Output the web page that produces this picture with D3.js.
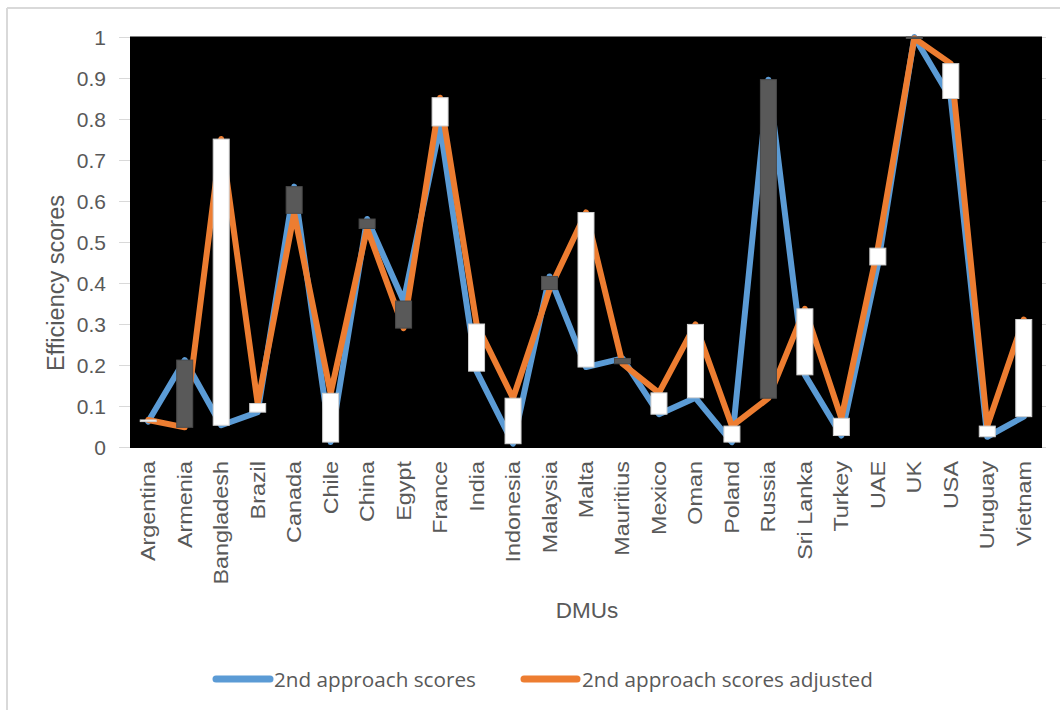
<!DOCTYPE html>
<html>
<head>
<meta charset="utf-8">
<script src="https://cdn.jsdelivr.net/npm/d3@7"></script>
<style>
  html, body { margin: 0; padding: 0; background: #fff; }
  svg { display: block; }
</style>
</head>
<body>
<svg id="chart" width="1060" height="710"></svg>
<script>
// Efficiency scores per DMU, original and adjusted (second approach)
const categories = ["Argentina", "Armenia", "Bangladesh", "Brazil", "Canada", "Chile", "China", "Egypt",
  "France", "India", "Indonesia", "Malaysia", "Malta", "Mauritius", "Mexico", "Oman", "Poland",
  "Russia", "Sri Lanka", "Turkey", "UAE", "UK", "USA", "Uruguay", "Vietnam"];
const scores = [0.062, 0.212, 0.053, 0.085, 0.635, 0.012, 0.556, 0.356, 0.783, 0.185, 0.008, 0.416,
  0.195, 0.216, 0.080, 0.120, 0.012, 0.896, 0.176, 0.028, 0.444, 1.000, 0.850, 0.025, 0.074];
const adjusted = [0.066, 0.048, 0.751, 0.106, 0.570, 0.131, 0.533, 0.290, 0.852, 0.300, 0.119, 0.384,
  0.572, 0.203, 0.132, 0.299, 0.051, 0.119, 0.337, 0.070, 0.485, 0.997, 0.935, 0.051, 0.311];
const yTicks = [0, 0.1, 0.2, 0.3, 0.4, 0.5, 0.6, 0.7, 0.8, 0.9, 1];
const yTickLabels = ["0", "0.1", "0.2", "0.3", "0.4", "0.5", "0.6", "0.7", "0.8", "0.9", "1"];
const seriesNames = ["2nd approach scores", "2nd approach scores adjusted"];
const seriesColors = ["#5B9BD5", "#ED7D31"];

const svg = d3.select("#chart");
const plot = { left: 130, right: 1042, top: 37, bottom: 447 };

const x = d3.scaleBand().domain(categories).range([plot.left, plot.right]);
const y = d3.scaleLinear().domain([0, 1]).range([plot.bottom, plot.top]);

// Chart frame
svg.append("line").attr("x1", 7).attr("x2", 7).attr("y1", 8).attr("y2", 710)
  .attr("stroke", "#d9d9d9").attr("stroke-width", 2);
svg.append("line").attr("x1", 7).attr("x2", 1060).attr("y1", 8).attr("y2", 8)
  .attr("stroke", "#d9d9d9").attr("stroke-width", 2);

// Gridlines (mostly hidden behind the dark plot area)
svg.append("g").selectAll("line").data(yTicks).join("line")
  .attr("x1", 119).attr("x2", 1046)
  .attr("y1", d => Math.round(y(d)) + 0.5).attr("y2", d => Math.round(y(d)) + 0.5)
  .attr("stroke", "#d9d9d9").attr("stroke-width", 1);

// Plot area background
svg.append("rect")
  .attr("x", plot.left).attr("y", plot.top - 0.5)
  .attr("width", plot.right - plot.left).attr("height", plot.bottom - plot.top + 1.5)
  .attr("fill", "#000");

// Y axis tick labels
svg.append("g").selectAll("text").data(yTicks).join("text")
  .attr("x", 106).attr("y", d => y(d))
  .attr("text-anchor", "end").attr("dominant-baseline", "central")
  .attr("font-family", "Liberation Sans, Arial, sans-serif").attr("font-size", 21)
  .attr("fill", "#595959")
  .text((d, i) => yTickLabels[i]);

// X axis category labels (rotated)
svg.append("g").selectAll("text").data(categories).join("text")
  .attr("transform", d => `translate(${x(d) + x.bandwidth() / 2 + 7},${461}) rotate(-90) scale(1.2,1)`)
  .attr("text-anchor", "end")
  .attr("font-family", "Liberation Sans, Arial, sans-serif").attr("font-size", 19.5)
  .attr("fill", "#595959")
  .text(d => d);

// Axis titles
svg.append("text")
  .attr("transform", "translate(56,283) rotate(-90)")
  .attr("text-anchor", "middle").attr("dominant-baseline", "central")
  .attr("font-family", "Liberation Sans, Arial, sans-serif").attr("font-size", 23.5)
  .attr("fill", "#595959")
  .text("Efficiency scores");
svg.append("text")
  .attr("x", 587).attr("y", 618)
  .attr("text-anchor", "middle")
  .attr("font-family", "Liberation Sans, Arial, sans-serif").attr("font-size", 22.5)
  .attr("fill", "#595959")
  .text("DMUs");

// Series lines
const line = d3.line()
  .x((d, i) => x(categories[i]) + x.bandwidth() / 2)
  .y(d => y(d));
[scores, adjusted].forEach((vals, k) => {
  svg.append("path")
    .datum(vals)
    .attr("d", line)
    .attr("fill", "none")
    .attr("stroke", seriesColors[k])
    .attr("stroke-width", 6)
    .attr("stroke-linejoin", "round")
    .attr("stroke-linecap", "round");
});

// Up/down bars between the two series
const barW = 16;
svg.append("g").selectAll("rect").data(categories).join("rect")
  .attr("x", d => x(d) + x.bandwidth() / 2 - barW / 2)
  .attr("width", barW)
  .attr("y", (d, i) => y(Math.max(scores[i], adjusted[i])))
  .attr("height", (d, i) => Math.max(1.5, Math.abs(y(scores[i]) - y(adjusted[i]))))
  .attr("fill", (d, i) => adjusted[i] >= scores[i] ? "#ffffff" : "#595959")
  .attr("stroke", (d, i) => adjusted[i] >= scores[i] ? "#d0d0d0" : "#4a4a4a")
  .attr("stroke-width", 1);

// Legend
const legendItems = [
  { name: seriesNames[0], color: seriesColors[0], x0: 216, x1: 270, tx: 274 },
  { name: seriesNames[1], color: seriesColors[1], x0: 524, x1: 577, tx: 582 }
];
const lg = svg.append("g").selectAll("g").data(legendItems).join("g");
lg.append("line")
  .attr("x1", d => d.x0).attr("x2", d => d.x1)
  .attr("y1", 679).attr("y2", 679)
  .attr("stroke", d => d.color).attr("stroke-width", 7).attr("stroke-linecap", "round");
lg.append("text")
  .attr("x", d => d.tx).attr("y", 679)
  .attr("dominant-baseline", "central")
  .attr("font-family", "Open Sans, sans-serif").attr("font-size", 20.7)
  .attr("fill", "#595959")
  .text(d => d.name);
</script>
</body>
</html>
